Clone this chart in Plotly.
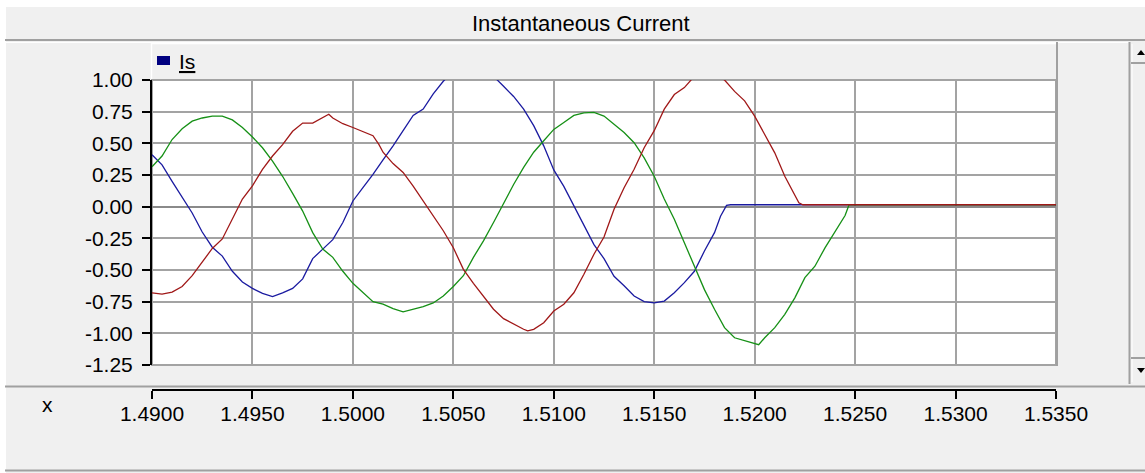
import plotly.graph_objects as go

# ---------------- data ----------------
t_blue = [1.4900, 1.4905, 1.4910, 1.4915, 1.4920, 1.4925, 1.4930, 1.4935, 1.4940, 1.4945,
          1.4950, 1.4955, 1.4960, 1.4965, 1.4970, 1.4975, 1.4980, 1.4985, 1.4990, 1.4995,
          1.5000, 1.5005, 1.5010, 1.5015, 1.5020, 1.5025, 1.5030, 1.5035, 1.5040, 1.5045,
          1.5050, 1.5055, 1.5060, 1.5065, 1.5070, 1.5075, 1.5080, 1.5085, 1.5090, 1.5095,
          1.5100, 1.5105, 1.5110, 1.5115, 1.5120, 1.5125, 1.5130, 1.5135, 1.5140, 1.5145,
          1.5150, 1.5155, 1.5160, 1.5165, 1.5170, 1.5175, 1.5180, 1.5183, 1.5186, 1.5188,
          1.5350]
i_blue = [0.41, 0.33, 0.20, 0.07, -0.05, -0.20, -0.32, -0.39, -0.51, -0.595,
          -0.645, -0.685, -0.71, -0.68, -0.645, -0.57, -0.41, -0.335, -0.26, -0.125,
          0.045, 0.15, 0.255, 0.37, 0.48, 0.60, 0.72, 0.77, 0.89, 0.99,
          1.07, 1.10, 1.11, 1.09, 1.03, 0.95, 0.87, 0.77, 0.64, 0.48,
          0.29, 0.16, 0.005, -0.15, -0.30, -0.41, -0.55, -0.625, -0.705, -0.75,
          -0.76, -0.745, -0.68, -0.60, -0.51, -0.35, -0.205, -0.075, 0.01, 0.015,
          0.015]

t_red = [1.4900, 1.4905, 1.4910, 1.4915, 1.4920, 1.4925, 1.4930, 1.4935, 1.4940, 1.4945,
         1.4950, 1.4955, 1.4960, 1.4965, 1.4970, 1.4975, 1.4980, 1.4985, 1.4988, 1.4990,
         1.4995, 1.5000, 1.5005, 1.5010, 1.5013, 1.5015, 1.5020, 1.5025, 1.5030, 1.5035,
         1.5040, 1.5045, 1.5050, 1.5055, 1.5060, 1.5065, 1.5070, 1.5075, 1.5080, 1.5085,
         1.5087, 1.5090, 1.5095, 1.5100, 1.5105, 1.5110, 1.5115, 1.5120, 1.5125, 1.5130,
         1.5135, 1.5140, 1.5145, 1.5150, 1.5155, 1.5160, 1.5165, 1.5170, 1.5175, 1.5180,
         1.5185, 1.5190, 1.5195, 1.5200, 1.5205, 1.5210, 1.5215, 1.5220, 1.5222, 1.5224,
         1.5350]
i_red = [-0.68, -0.69, -0.675, -0.63, -0.545, -0.44, -0.33, -0.255, -0.10, 0.06,
         0.165, 0.295, 0.40, 0.49, 0.595, 0.66, 0.66, 0.70, 0.73, 0.70,
         0.655, 0.625, 0.595, 0.56, 0.49, 0.43, 0.34, 0.27, 0.163, 0.045,
         -0.074, -0.19, -0.324, -0.495, -0.605, -0.705, -0.81, -0.884, -0.929, -0.968,
         -0.98, -0.968, -0.916, -0.824, -0.77, -0.68, -0.534, -0.376, -0.24, -0.02,
         0.15, 0.295, 0.465, 0.60, 0.77, 0.885, 0.94, 1.03, 1.05, 1.04,
         1.0, 0.91, 0.835, 0.715, 0.57, 0.425, 0.24, 0.095, 0.03, 0.015,
         0.015]

t_green = [1.4900, 1.4905, 1.4910, 1.4915, 1.4920, 1.4925, 1.4930, 1.4935, 1.4940, 1.4945,
           1.4950, 1.4955, 1.4960, 1.4965, 1.4970, 1.4975, 1.4980, 1.4985, 1.4990, 1.4995,
           1.5000, 1.5005, 1.5010, 1.5015, 1.5020, 1.5025, 1.5030, 1.5035, 1.5040, 1.5045,
           1.5050, 1.5055, 1.5060, 1.5065, 1.5070, 1.5075, 1.5080, 1.5085, 1.5090, 1.5095,
           1.5100, 1.5105, 1.5110, 1.5115, 1.5120, 1.5125, 1.5130, 1.5135, 1.5140, 1.5145,
           1.5150, 1.5155, 1.5160, 1.5165, 1.5170, 1.5175, 1.5180, 1.5185, 1.5190, 1.5195,
           1.5200, 1.5202, 1.5205, 1.5210, 1.5215, 1.5220, 1.5225, 1.5230, 1.5235, 1.5240,
           1.5245, 1.5247, 1.5350]
i_green = [0.315, 0.40, 0.53, 0.615, 0.675, 0.70, 0.715, 0.715, 0.685, 0.625,
           0.55, 0.465, 0.36, 0.24, 0.105, -0.035, -0.205, -0.335, -0.40, -0.51,
           -0.605, -0.68, -0.75, -0.77, -0.805, -0.83, -0.81, -0.79, -0.76, -0.705,
           -0.63, -0.545, -0.40, -0.27, -0.125, 0.03, 0.175, 0.31, 0.43, 0.52,
           0.61, 0.665, 0.72, 0.74, 0.745, 0.715, 0.65, 0.585, 0.505, 0.385,
           0.24, 0.06, -0.10, -0.285, -0.47, -0.655, -0.81, -0.955, -1.035, -1.06,
           -1.08, -1.09, -1.035, -0.955, -0.85, -0.72, -0.56, -0.47, -0.325, -0.20,
           -0.07, 0.015, 0.015]

x_tick_vals = [1.490, 1.495, 1.500, 1.505, 1.510, 1.515, 1.520, 1.525, 1.530, 1.535]
x_tick_text = ["1.4900", "1.4950", "1.5000", "1.5050", "1.5100", "1.5150",
               "1.5200", "1.5250", "1.5300", "1.5350"]
y_tick_vals = [1.0, 0.75, 0.5, 0.25, 0.0, -0.25, -0.5, -0.75, -1.0, -1.25]
y_tick_text = ["1.00", "0.75", "0.50", "0.25", "0.00", "-0.25", "-0.50", "-0.75",
               "-1.00", "-1.25"]

title_text = "Instantaneous Current"
legend_text = "Is"
x_label = "x"

# ---------------- layout geometry (pixels) ----------------
W, H = 1145, 473
L, R = 152, 1056          # plot area left / right
T, B = 80, 390            # top of plot, bottom of plotting region (x axis line)
PLOT_BOTTOM = 365         # bottom of the white plot area


def px(x):
    return (x - L) / (R - L)


def py(y):
    return (B - y) / (B - T)


FONT = "Liberation Sans, Arial, sans-serif"
GRID = "#a3a3a3"
BG = "#f0f0f0"

fig = go.Figure()
fig.add_trace(go.Scatter(x=t_blue, y=i_blue, mode="lines", name=legend_text,
                         line=dict(color="#1a1aa0", width=1.3), showlegend=False))
fig.add_trace(go.Scatter(x=t_green, y=i_green, mode="lines", name=legend_text,
                         line=dict(color="#169016", width=1.3), showlegend=False))
fig.add_trace(go.Scatter(x=t_red, y=i_red, mode="lines", name=legend_text,
                         line=dict(color="#a01818", width=1.3), showlegend=False))


def hline(y, x0, x1, color, width=2):
    return dict(type="line", xref="paper", yref="paper", x0=px(x0), x1=px(x1),
                y0=py(y), y1=py(y), line=dict(color=color, width=width))


def vline(x, y0, y1, color, width=2):
    return dict(type="line", xref="paper", yref="paper", x0=px(x), x1=px(x),
                y0=py(y0), y1=py(y1), line=dict(color=color, width=width))


def rect(x0, y0, x1, y1, fill, line_color=None, width=0, layer="above"):
    d = dict(type="rect", xref="paper", yref="paper", x0=px(x0), x1=px(x1),
             y0=py(y0), y1=py(y1), fillcolor=fill, layer=layer,
             line=dict(width=width, color=line_color or fill))
    return d


shapes = [
    # white frame strips at top and left
    rect(0, 0, W, 7, "#ffffff"),
    rect(0, 0, 6, H, "#ffffff"),
    # title bar separator
    hline(40, 5, W, "#a0a0a0", 2),
    hline(42.5, 6, 1129, "#ffffff", 1),
    # legend strip bevel
    hline(43.5, 151, 1056, "#ffffff", 1.5),
    vline(151.5, 43, 79, "#ffffff", 1.5),
    vline(1057, 42, 366, "#a0a0a0", 2),
    # plot border
    dict(type="rect", xref="paper", yref="paper", x0=0, x1=1,
         y0=py(PLOT_BOTTOM), y1=1, line=dict(color=GRID, width=2), layer="below"),
    # legend marker
    rect(157, 56, 170, 65, "#000080"),
    # scrollbar
    vline(1129.5, 42, 384, "#a0a0a0", 2),
    vline(1132, 44, 382, "#ffffff", 1),
    hline(63, 1131, W, "#a0a0a0", 2),
    hline(358, 1131, W, "#a0a0a0", 2),
    dict(type="path", xref="paper", yref="paper",
         path="M {} {} L {} {} L {} {} Z".format(px(1137), py(55), px(1145), py(55),
                                                 px(1141), py(50)),
         fillcolor="#000000", line=dict(width=0)),
    dict(type="path", xref="paper", yref="paper",
         path="M {} {} L {} {} L {} {} Z".format(px(1137), py(368), px(1145), py(368),
                                                 px(1141), py(373)),
         fillcolor="#000000", line=dict(width=0)),
    # bottom separators
    hline(386.5, 5, W, "#a0a0a0", 2),
    hline(470.5, 5, W, "#a0a0a0", 2),
]

annotations = [
    dict(text=title_text, xref="paper", yref="paper", x=px(581), y=py(23),
         xanchor="center", yanchor="middle", showarrow=False,
         font=dict(family=FONT, size=22, color="#000000")),
    dict(text='<span style="text-decoration:underline">' + legend_text + "</span>",
         xref="paper", yref="paper", x=px(177), y=py(62),
         xanchor="left", yanchor="middle", showarrow=False,
         font=dict(family=FONT, size=21, color="#000000")),
    dict(text=x_label, xref="paper", yref="paper", x=px(47), y=py(404),
         xanchor="center", yanchor="middle", showarrow=False,
         font=dict(family=FONT, size=21, color="#000000")),
]

fig.update_layout(
    width=W, height=H,
    margin=dict(l=L, r=W - R, t=T, b=H - B, pad=0),
    paper_bgcolor=BG, plot_bgcolor="#ffffff",
    showlegend=False,
    shapes=shapes, annotations=annotations,
    xaxis=dict(range=[1.49, 1.535], anchor="free", position=0,
               tickmode="array", tickvals=x_tick_vals, ticktext=x_tick_text,
               showgrid=True, gridcolor=GRID, gridwidth=2,
               zeroline=False, showline=True, linecolor="#000000", linewidth=2,
               ticks="outside", ticklen=8, tickwidth=2, tickcolor="#000000",
               ticklabelstandoff=-3,
               tickfont=dict(family=FONT, size=21, color="#000000")),
    yaxis=dict(range=[-1.25, 1.0], domain=[py(PLOT_BOTTOM), 1],
               tickmode="array", tickvals=y_tick_vals, ticktext=y_tick_text,
               showgrid=True, gridcolor=GRID, gridwidth=2,
               zeroline=True, zerolinecolor="#8a8a8a", zerolinewidth=2,
               showline=True, linecolor="#000000", linewidth=2,
               ticks="outside", ticklen=8, tickwidth=2, tickcolor="#000000",
               ticklabelstandoff=5,
               tickfont=dict(family=FONT, size=21, color="#000000")),
)

fig.write_html("out.html")
